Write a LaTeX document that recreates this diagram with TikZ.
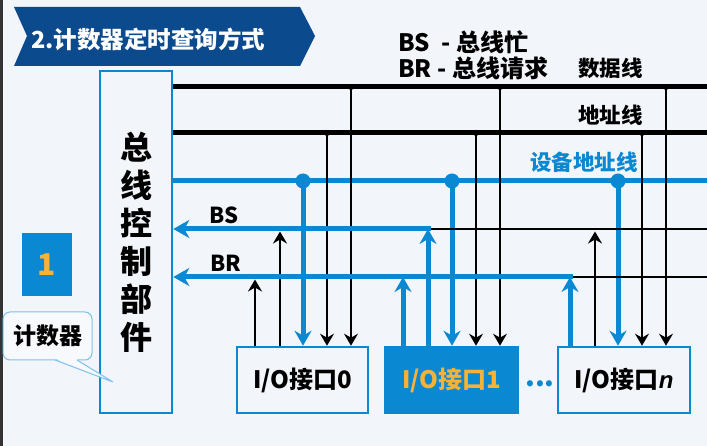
\documentclass[tikz,border=0pt]{standalone}
\usepackage{xcolor}
\usepackage{fontspec}
\usepackage{tikz}
\usetikzlibrary{arrows.meta}
\setmainfont{Noto Sans CJK SC}
\newfontfamily\latinfont{Liberation Sans}
\definecolor{pagebg}{HTML}{F2F5FA}
\definecolor{busblue}{HTML}{0A88D2}
\definecolor{bannerblue}{HTML}{0C4A8E}
\definecolor{numorange}{HTML}{F9B233}
\definecolor{tipblue}{HTML}{7CC2EC}

\begin{document}
\begin{tikzpicture}[x=1pt,y=-1pt]
\tikzstyle{unit} = [draw=busblue, line width=2.6pt, fill=pagebg, inner sep=0pt]
\tikzstyle{tap} = [shape=circle, fill=black, inner sep=0pt, minimum size=6pt]
\tikzstyle{bigtap} = [shape=circle, fill=busblue, inner sep=0pt, minimum size=15pt]
\tikzstyle{busline} = [line width=5pt]
\tikzstyle{wire} = [line width=1.8pt]
\tikzstyle{bluewire} = [busblue, line width=5pt]
\tikzstyle{blackhead} = [-{Stealth[length=12pt,width=14pt,inset=4pt]}]
\tikzstyle{bluehead} = [-{Stealth[length=15pt,width=17pt,inset=5pt]}]
\tikzstyle{lefthead} = [{Stealth[length=16pt,width=18pt,inset=5pt]}-]
\tikzstyle{label} = [font=\bfseries\fontsize{22}{26}\selectfont, inner sep=0pt]
\tikzstyle{iotext} = [font=\bfseries\fontsize{24}{28}\selectfont]
\tikzstyle{toptext} = [font=\bfseries\fontsize{24}{28}\selectfont, inner sep=0pt, anchor=west]
  \fill[pagebg] (0,0) rectangle (707,446);
  \useasboundingbox (0,0) rectangle (707,446);
  \fill[black!80] (0,0) rectangle (2.5,446);

  % title banner
  \fill[bannerblue] (14,7) -- (300,7) -- (315,36) -- (300,66) -- (14,66) -- (27,36) -- cycle;
  \node (title) [anchor=west, text=white, font=\bfseries\fontsize{23.5}{28}\selectfont, inner sep=0pt]
    at (31,39) {2.计数器定时查询方式};

  \node (ctrl) [unit, minimum width=72pt, minimum height=342pt, align=center,
    font=\bfseries\fontsize{32}{38}\selectfont] at (136,242) {总\\线\\控\\制\\部\\件};

  \node (num) [fill=busblue, minimum width=50pt, minimum height=63pt, text=numorange,
    font=\bfseries\fontsize{30}{30}\selectfont] at (47,264.5) {1};

  \node (cnt) [draw=tipblue, line width=1pt, fill=pagebg!60!white, rounded corners=7pt,
    minimum width=89pt, minimum height=48pt, label, font=\bfseries\fontsize{23}{26}\selectfont]
    at (47.5,336) {计数器};
  \fill[pagebg!60!white] (56,358.8) -- (113,382) -- (76,358.8) -- cycle;
  \draw[tipblue, line width=1pt] (55,360) -- (113,382) -- (77,360);

  \node (io0) [unit, minimum width=131pt, minimum height=66pt, iotext] at (302.5,380) {I/O接口0};
  \node (io1) [unit, fill=busblue, minimum width=133pt, minimum height=66pt, iotext, text=numorange]
    at (451.5,380) {I/O接口1};
  \node (ion) [unit, minimum width=132pt, minimum height=66pt, iotext]
    at (624,380) {I/O接口{\latinfont\bfseries\itshape n}};
  \node (dots) [text=busblue, font=\bfseries\fontsize{28}{30}\selectfont, inner sep=0pt]
    at (540,384) {...};

  \coordinate (dataR) at (707,87);
  \coordinate (addrR) at (707,133);
  \coordinate (devR) at (707,181);
  \coordinate (bsR) at (707,229);
  \coordinate (brR) at (707,277);

  \draw[busline] (ctrl.east |- dataR) -- (dataR);
  \draw[busline] (ctrl.east |- addrR) -- (addrR);
  \draw[bluewire] (ctrl.east |- devR) -- (devR);

  \node (t1) [toptext] at (398,42) {BS\hspace{12pt}- 总线忙};
  \node (t2) [toptext] at (398,68) {BR - 总线请求};
  \node (t3) [toptext, font=\bfseries\fontsize{21.5}{25}\selectfont] at (578,68) {数据线};
  \node (t4) [toptext, font=\bfseries\fontsize{21.5}{25}\selectfont] at (578,115) {地址线};
  \node (t5) [toptext, text=busblue, font=\bfseries\fontsize{21.5}{25}\selectfont] at (530,162) {设备地址线};
  \node (bslab) [label, anchor=west] at (209,215) {BS};
  \node (brlab) [label, anchor=west] at (210,263) {BR};

  % taps on the buses, down into each interface
  \foreach \i/\x in {0/303, 1/452, n/618} {
    \node (adr\i) [tap] at (\x+24,133) {};
    \node (dat\i) [tap] at (\x+48,87) {};
    \draw[wire, blackhead] (adr\i.center) -- (adr\i |- io\i.north);
    \draw[wire, blackhead] (dat\i.center) -- (dat\i |- io\i.north);
    \draw[bluewire, bluehead] (\x,181) -- (\x,181 |- io\i.north);
  }

  \coordinate (br0) at (255,277);
  \coordinate (bs0) at (280,229);
  \coordinate (br1) at (403,277);
  \coordinate (bs1) at (428,229);
  \coordinate (brn) at (570,277);
  \coordinate (bsn) at (595,229);

  \draw[wire, blackhead] (br0 |- io0.north) -- ([yshift=-2.5pt]br0);
  \draw[wire, blackhead] (bs0 |- io0.north) -- ([yshift=-2.5pt]bs0);
  \draw[wire, blackhead] (bsn |- ion.north) -- ([yshift=-2.5pt]bsn);
  \draw[wire] (bs1) -- (bsR);
  \draw[wire] (brn) -- (brR);
  \draw[bluewire, lefthead] (ctrl.east |- bs1) -- ([xshift=2.5pt]bs1);
  \draw[bluewire, lefthead] (ctrl.east |- brn) -- ([xshift=2.5pt]brn);
  \draw[bluewire, bluehead] (br1 |- io1.north) -- (br1);
  \draw[bluewire, bluehead] (bs1 |- io1.north) -- (bs1);
  \draw[bluewire, bluehead] (brn |- ion.north) -- (brn);

  \foreach \i/\x in {0/303, 1/452, n/618}
    \node (dev\i) [bigtap] at (\x,181) {};
\end{tikzpicture}
\end{document}
